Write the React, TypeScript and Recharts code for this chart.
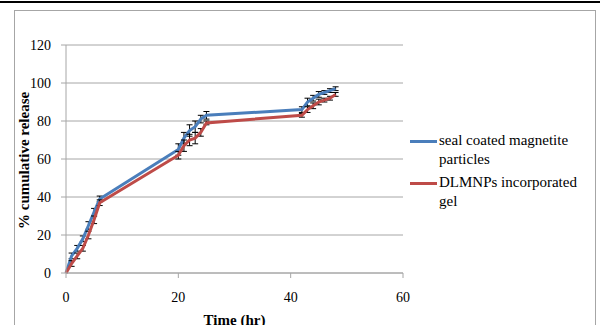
import { LineChart, Line, XAxis, YAxis, CartesianGrid, ErrorBar } from "recharts"

const times = [0, 1, 2, 3, 4, 5, 6, 20, 21, 22, 23, 24, 25, 42, 43, 44, 45, 46, 47, 48]
const sealCoated = [0, 9, 13, 18, 25, 32, 39, 65, 71, 75, 77, 81, 83, 86, 90, 92, 94, 95, 96, 97]
const dlmnpGel = [0, 5, 9, 13, 20, 28, 37, 62, 67, 70, 71, 74, 79, 83, 86, 88, 90, 91, 92, 94]
const sealErr = [0, 1.5, 1.5, 1.5, 2, 2, 1.5, 3, 3, 3, 3, 2, 2, 1.5, 2, 1.5, 1.5, 1, 1, 1]
const gelErr = [0, 1.5, 1.5, 1.5, 2, 2, 1.5, 2, 3, 3, 3, 2, 1, 1, 1.5, 1.5, 1.5, 1, 1, 1]
const xTicks = [0, 20, 40, 60]
const yTicks = [0, 20, 40, 60, 80, 100, 120]

const seriesNames = ["seal coated magnetite particles", "DLMNPs incorporated gel"]
const legendLines = [["seal coated magnetite", "particles"], ["DLMNPs incorporated", "gel"]]
const colors = ["#4a7ebb", "#be4b48"]

const blueData = times.map((t, i) => ({ t, v: sealCoated[i], e: sealErr[i] }))
const redData = times.map((t, i) => ({ t, v: dlmnpGel[i], e: gelErr[i] }))

const font = "'Liberation Serif', 'Times New Roman', serif"

function LegendBox() {
  return (
    <div style={{ position: "absolute", left: 410, top: 131, width: 188, fontFamily: font, fontSize: 15, color: "#000", lineHeight: "19px" }}>
      {legendLines.map((lines, i) => (
        <div key={i} style={{ display: "flex", alignItems: "flex-start", marginBottom: 4 }}>
          <div style={{ width: 27, height: 3, background: colors[i], marginTop: 9, marginRight: 2, flexShrink: 0 }} />
          <div>
            {lines.map((l, j) => (
              <div key={j}>{l}</div>
            ))}
          </div>
        </div>
      ))}
    </div>
  )
}

export default function App() {
  return (
    <div style={{ position: "absolute", left: 0, top: 0, width: 600, height: 325, background: "#fff", overflow: "hidden" }}>
      <div style={{ position: "absolute", left: 0, top: 1, width: 600, height: 2, background: "#000" }} />
      <div style={{ position: "absolute", left: 14, top: 10, width: 580, height: 330, border: "1px solid #a6a6a6" }} />
      <LineChart
        width={600}
        height={325}
        margin={{ top: 45, right: 197, bottom: 22, left: 26 }}
        style={{ position: "absolute", left: 0, top: 0 }}
      >
        <CartesianGrid vertical={false} stroke="#a6a6a6" />
        <XAxis
          type="number"
          dataKey="t"
          domain={[0, 60]}
          ticks={xTicks}
          height={30}
          stroke="#a6a6a6"
          tickSize={5}
          tickMargin={14}
          tick={{ fill: "#000", fontSize: 14, fontFamily: font }}
          label={{ value: "Time (hr)", position: "insideBottom", offset: -22, fill: "#000", fontSize: 15, fontWeight: "bold", fontFamily: font }}
        />
        <YAxis
          type="number"
          domain={[0, 120]}
          ticks={yTicks}
          width={40}
          stroke="#a6a6a6"
          tickSize={5}
          tickMargin={10}
          tick={{ fill: "#000", fontSize: 14, fontFamily: font }}
          label={{ value: "% cumulative release", angle: -90, position: "insideLeft", offset: -2, dy: 70, fill: "#000", fontSize: 15, fontWeight: "bold", fontFamily: font }}
        />
        <Line data={blueData} dataKey="v" name={seriesNames[0]} stroke={colors[0]} strokeWidth={3} dot={false} isAnimationActive={false}>
          <ErrorBar dataKey="e" width={3} stroke="#000" strokeWidth={1} />
        </Line>
        <Line data={redData} dataKey="v" name={seriesNames[1]} stroke={colors[1]} strokeWidth={3} dot={false} isAnimationActive={false}>
          <ErrorBar dataKey="e" width={3} stroke="#000" strokeWidth={1} />
        </Line>
      </LineChart>
      <LegendBox />
    </div>
  )
}
